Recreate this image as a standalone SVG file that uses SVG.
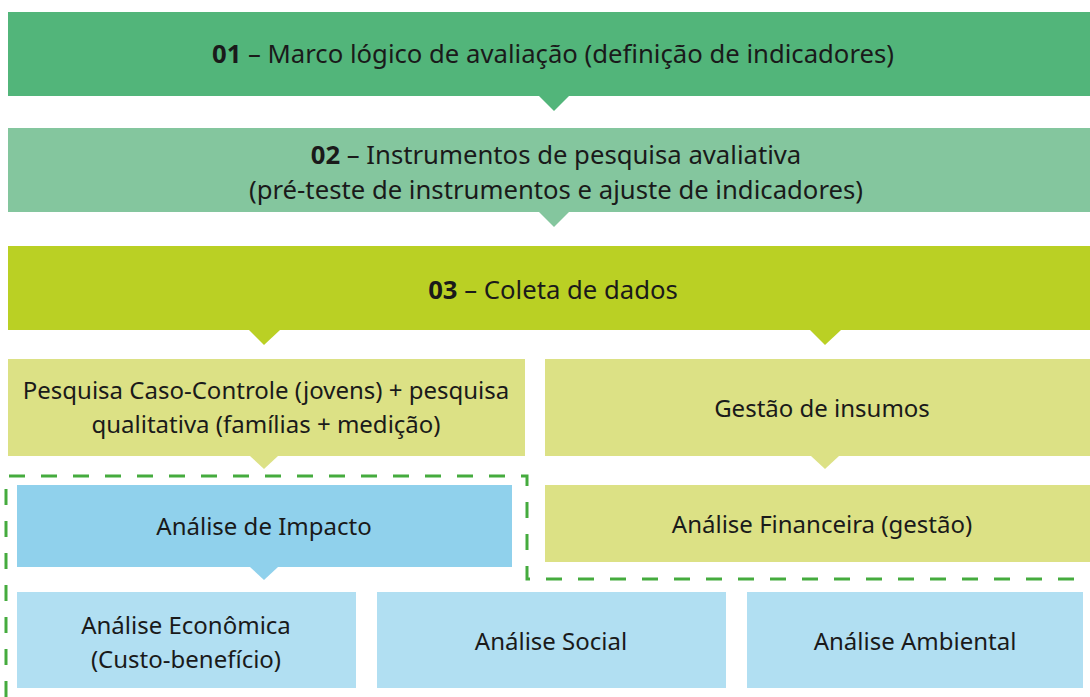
<svg xmlns="http://www.w3.org/2000/svg" width="1090" height="697" viewBox="0 0 1090 697">
<style>
text{font-family:"Noto Sans","Open Sans",sans-serif;font-size:24px;fill:#1a1a1a;text-anchor:middle}
.t{font-size:25.7px}
.b{font-weight:bold}
</style>
<rect width="1090" height="697" fill="#ffffff"/>
<g id="connectors">
<polygon points="539,96 569,96 554,111" fill="#52b57a"/>
<polygon points="539,212 569,212 554,227" fill="#84c69e"/>
<polygon points="249,330 280,330 264,345" fill="#bad024"/>
<polygon points="810,330 841,330 825,345" fill="#bad024"/>
<polygon points="250,456 278,456 264,469" fill="#dce185"/>
<polygon points="811,456 839,456 825,469" fill="#dce185"/>
<polygon points="250,567 278,567 264,580" fill="#90d1ec"/>
</g>
<g id="n1"><rect x="8" y="12" width="1082" height="84" fill="#52b57a"/><text class="t" x="553" y="63"><tspan class="b">01</tspan> – Marco lógico de avaliação (definição de indicadores)</text></g>
<g id="n2"><rect x="8" y="128" width="1082" height="84" fill="#84c69e"/><text class="t" x="556" y="164"><tspan class="b">02</tspan> – Instrumentos de pesquisa avaliativa</text><text class="t" x="556" y="199">(pré-teste de instrumentos e ajuste de indicadores)</text></g>
<g id="n3"><rect x="8" y="246" width="1082" height="84" fill="#bad024"/><text class="t" x="553" y="299"><tspan class="b">03</tspan> – Coleta de dados</text></g>
<g id="n4"><rect x="8" y="359" width="517" height="97" fill="#dce185"/><text x="266" y="399">Pesquisa Caso-Controle (jovens) + pesquisa</text><text x="266" y="433">qualitativa (famílias + medição)</text></g>
<g id="n5"><rect x="545" y="359" width="545" height="97" fill="#dce185"/><text x="822" y="417">Gestão de insumos</text></g>
<g id="n6"><rect x="17" y="485" width="495" height="82" fill="#90d1ec"/><text x="264" y="535">Análise de Impacto</text></g>
<g id="n7"><rect x="545" y="485" width="545" height="77" fill="#dce185"/><text x="822" y="533">Análise Financeira (gestão)</text></g>
<g id="n8"><rect x="17" y="592" width="339" height="96" fill="#b1dff2"/><text x="186" y="634">Análise Econômica</text><text x="186" y="668">(Custo-benefício)</text></g>
<g id="n9"><rect x="377" y="592" width="349" height="96" fill="#b1dff2"/><text x="551" y="650">Análise Social</text></g>
<g id="n10"><rect x="747" y="592" width="336" height="96" fill="#b1dff2"/><text x="915" y="650">Análise Ambiental</text></g>
<g id="group"><path d="M6,697 V476 H527 V579 H1090" fill="none" stroke="#45ab3e" stroke-width="3" stroke-dasharray="16,16"/></g>
</svg>
